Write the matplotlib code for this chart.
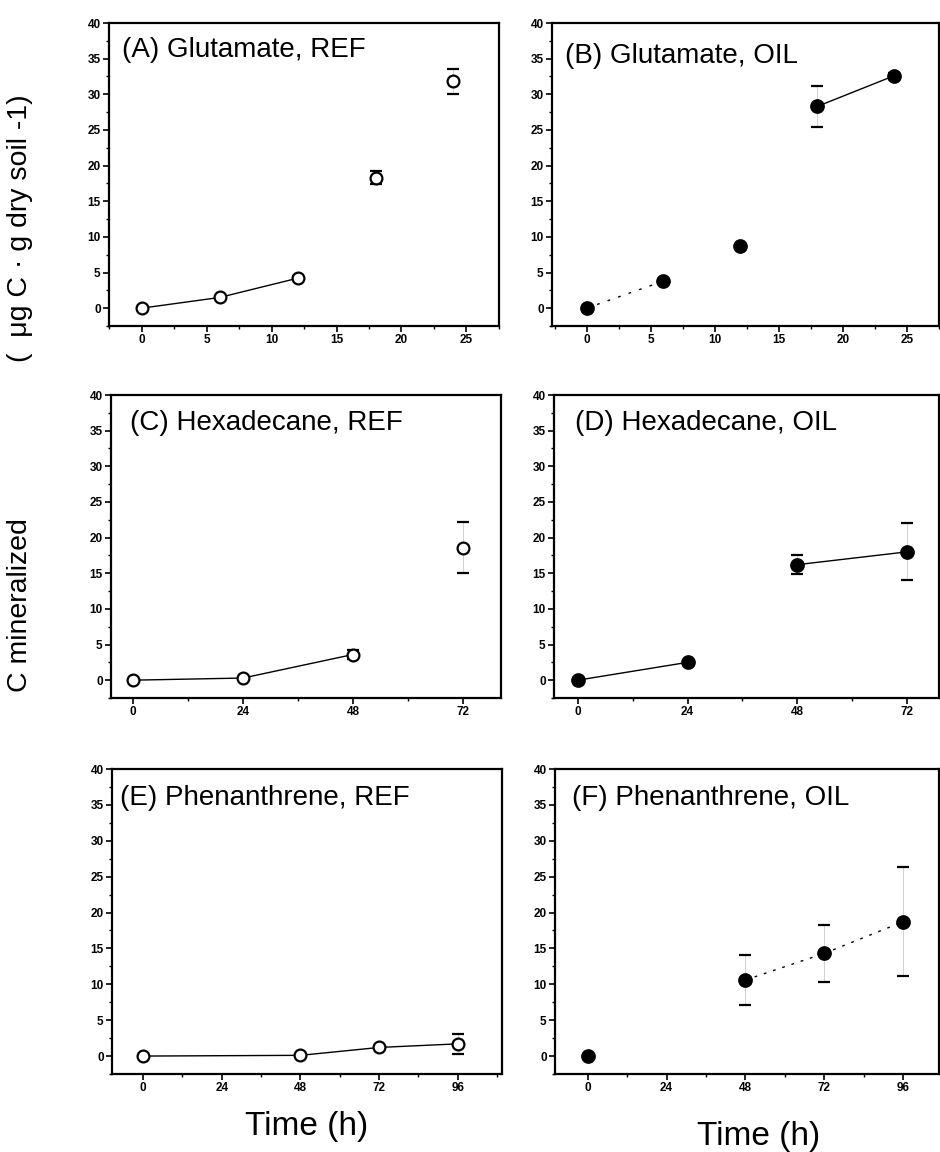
import numpy as np
import matplotlib.pyplot as plt
from matplotlib.ticker import MultipleLocator

plt.rcParams['font.family'] = ['Liberation Sans', 'DejaVu Sans']

# panel data (time in h, C mineralized, error)
titles = ['(A) Glutamate, REF', '(B) Glutamate, OIL',
          '(C) Hexadecane, REF', '(D) Hexadecane, OIL',
          '(E) Phenanthrene, REF', '(F) Phenanthrene, OIL']

glu_t = [0, 6, 12, 18, 24]
glu_ref = [0.0, 1.5, 4.2, 18.3, 31.8]
glu_ref_err = [0, 0, 0.3, 0.9, 1.8]
glu_oil = [0.0, 3.8, 8.7, 28.3, 32.6]
glu_oil_err = [0, 0, 0, 2.9, 0.4]

hex_t = [0, 24, 48, 72]
hex_ref = [0.0, 0.3, 3.6, 18.6]
hex_ref_err = [0, 0, 0.6, 3.6]
hex_oil = [0.0, 2.5, 16.2, 18.0]
hex_oil_err = [0, 0, 1.3, 4.0]

phe_ref_t = [0, 48, 72, 96]
phe_ref = [0.0, 0.1, 1.2, 1.7]
phe_ref_err = [0, 0, 0, 1.4]
phe_oil_t = [0, 48, 72, 96]
phe_oil = [0.0, 10.6, 14.3, 18.7]
phe_oil_err = [0, 3.5, 4.0, 7.6]

# which points are joined by a line, and how
links = [
    [(0, 1, '-'), (1, 2, '-')],
    [(0, 1, (0, (2, 6))), (3, 4, '-')],
    [(0, 1, '-'), (1, 2, '-')],
    [(0, 1, '-'), (2, 3, '-')],
    [(0, 1, '-'), (1, 2, '-'), (2, 3, '-')],
    [(1, 2, (0, (2, 5))), (2, 3, (0, (2, 5)))],
]

series = [
    (glu_t, glu_ref, glu_ref_err, False),
    (glu_t, glu_oil, glu_oil_err, True),
    (hex_t, hex_ref, hex_ref_err, False),
    (hex_t, hex_oil, hex_oil_err, True),
    (phe_ref_t, phe_ref, phe_ref_err, False),
    (phe_oil_t, phe_oil, phe_oil_err, True),
]

xticks = [[0, 5, 10, 15, 20, 25], [0, 5, 10, 15, 20, 25],
          [0, 24, 48, 72], [0, 24, 48, 72],
          [0, 24, 48, 72, 96], [0, 24, 48, 72, 96]]
xlims = [(-2.5, 27.5), (-2.7, 27.5), (-4.8, 80.3), (-5.2, 79), (-9.5, 109.5), (-10, 107)]
xminor = [2.5, 2.5, 12, 12, 12, 12]

W, H = 940, 1152
boxes = [(109, 499, 23, 326), (552, 939, 23, 326),
         (111, 501, 395, 698), (554, 939, 395, 698),
         (112, 502, 769, 1074), (555, 939, 769, 1074)]
title_pos = [(0.033, 0.955), (0.034, 0.935), (0.05, 0.95),
             (0.055, 0.95), (0.02, 0.948), (0.045, 0.948)]

fig = plt.figure(figsize=(9.4, 11.52), dpi=100)

for k in range(6):
    l, r, t, b = boxes[k]
    ax = fig.add_axes([l / W, 1 - b / H, (r - l) / W, (b - t) / H])
    x, y, e, filled = series[k]
    x = np.array(x)
    y = np.array(y)
    for i, j, ls in links[k]:
        ax.plot([x[i], x[j]], [y[i], y[j]], color='black', lw=1.0, ls=ls, zorder=2)
    fc = 'black' if filled else 'white'
    ms = 9 if filled else 8.5
    _, caps, bars = ax.errorbar(x, y, yerr=e, fmt='o', ms=ms, mfc=fc, mec='black',
                                mew=1.6, ecolor='black', elinewidth=0.5,
                                capsize=4, capthick=1.5, zorder=3)
    for bc in bars:
        bc.set_color('0.75')
    ax.set_xlim(*xlims[k])
    ax.set_ylim(-2.5, 40)
    ax.set_xticks(xticks[k])
    ax.set_yticks(np.arange(0, 41, 5))
    ax.yaxis.set_minor_locator(MultipleLocator(2.5))
    ax.xaxis.set_minor_locator(MultipleLocator(xminor[k]))
    ax.tick_params(which='major', direction='out', length=4, width=1.2,
                   labelsize=8.5, pad=2)
    ax.tick_params(which='minor', direction='out', length=2, width=1)
    for lab in ax.get_xticklabels() + ax.get_yticklabels():
        lab.set_fontweight('bold')
    for sp in ax.spines.values():
        sp.set_linewidth(1.6)
    ax.text(title_pos[k][0], title_pos[k][1], titles[k], transform=ax.transAxes,
            fontsize=20, va='top', ha='left')

fig.text(20 / W, 1 - 605 / H, 'C mineralized', rotation=90, fontsize=20.5,
         ha='center', va='center')
fig.text(20 / W, 1 - 228 / H, '(  \u03bcg C \u00b7 g dry soil -1)', rotation=90,
         fontsize=20.5, ha='center', va='center')
fig.text(307 / W, 1 - 1127 / H, 'Time (h)', fontsize=24, ha='center', va='center')
fig.text(759 / W, 1 - 1137 / H, 'Time (h)', fontsize=24, ha='center', va='center')

fig.savefig('out.png', dpi=100)
